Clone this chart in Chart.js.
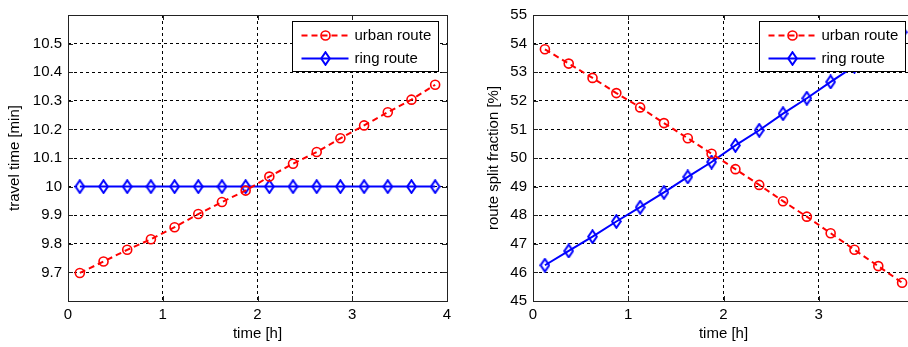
<!DOCTYPE html>
<html>
<head>
<meta charset="utf-8">
<script src="https://cdn.jsdelivr.net/npm/chart.js@4.4.1/dist/chart.umd.min.js"></script>
<style>
    html, body { margin: 0; padding: 0; background: #fff; overflow: hidden; width: 908px; height: 347px; }
    #travelChart { position: absolute; left: 0; top: 0; }
    #splitChart { position: absolute; left: 460px; top: 0; }
</style>
</head>
<body>
<canvas id="travelChart" width="460" height="347"></canvas>
<canvas id="splitChart" width="470" height="347"></canvas>
<script>
// time samples [h]
const times = [0.125, 0.375, 0.625, 0.875, 1.125, 1.375, 1.625, 1.875, 2.125, 2.375, 2.625, 2.875, 3.125, 3.375, 3.625, 3.875];

// travel time [min]
const urbanTravel = [9.698, 9.738, 9.779, 9.816, 9.858, 9.904, 9.946, 9.986, 10.035, 10.080, 10.121, 10.169, 10.214, 10.260, 10.304, 10.356];
const ringTravel = [10, 10, 10, 10, 10, 10, 10, 10, 10, 10, 10, 10, 10, 10, 10, 10];

// route split fraction [%]
const urbanSplit = [53.80, 53.30, 52.80, 52.27, 51.77, 51.22, 50.69, 50.15, 49.61, 49.06, 48.49, 47.95, 47.37, 46.79, 46.22, 45.64];
const ringSplit = [46.25, 46.75, 47.25, 47.78, 48.28, 48.80, 49.34, 49.86, 50.44, 50.97, 51.55, 52.09, 52.66, 53.21, 53.80, 54.40];

const xTicks = [0, 1, 2, 3, 4];
const travelTicks = [9.7, 9.8, 9.9, 10, 10.1, 10.2, 10.3, 10.4, 10.5];
const splitTicks = [45, 46, 47, 48, 49, 50, 51, 52, 53, 54, 55];

const seriesNames = ["urban route", "ring route"];
const FONT = "'Liberation Sans', Arial, Helvetica, sans-serif";

// tall open diamond like the MATLAB 'd' marker
function diamondMarker(color) {
    const c = document.createElement("canvas");
    c.width = 11;
    c.height = 15;
    const g = c.getContext("2d");
    g.strokeStyle = color;
    g.lineWidth = 2;
    g.beginPath();
    g.moveTo(5.5, 1.2);
    g.lineTo(9.8, 7.5);
    g.lineTo(5.5, 13.8);
    g.lineTo(1.2, 7.5);
    g.closePath();
    g.stroke();
    return c;
}
const diamond = diamondMarker("#0000ff");

function toPoints(values) {
    return values.map((v, i) => ({ x: times[i], y: v }));
}

// axes box, inward ticks and legend drawn on top
const matlabAxes = {
    id: "matlabAxes",
    afterDraw(chart) {
        const { ctx, chartArea: a, scales } = chart;
        ctx.save();
        ctx.strokeStyle = "#222";
        ctx.lineWidth = 1;
        ctx.setLineDash([]);
        ctx.beginPath();
        scales.x.ticks.forEach(t => {
            const px = Math.round(scales.x.getPixelForValue(t.value)) + 0.5;
            ctx.moveTo(px, a.bottom); ctx.lineTo(px, a.bottom - 5);
            ctx.moveTo(px, a.top); ctx.lineTo(px, a.top + 5);
        });
        scales.y.ticks.forEach(t => {
            const py = Math.round(scales.y.getPixelForValue(t.value)) + 0.5;
            ctx.moveTo(a.left, py); ctx.lineTo(a.left + 5, py);
            ctx.moveTo(a.right, py); ctx.lineTo(a.right - 5, py);
        });
        ctx.stroke();
        ctx.strokeRect(Math.round(a.left) + 0.5, Math.round(a.top) + 0.5, Math.round(a.right - a.left), Math.round(a.bottom - a.top));

        // legend
        const w = 146, h = 50;
        const bx = Math.round(a.right) - 9 - w + 0.5;
        const by = Math.round(a.top) + 6 + 0.5;
        ctx.fillStyle = "#fff";
        ctx.fillRect(bx, by, w, h);
        ctx.strokeStyle = "#000";
        ctx.strokeRect(bx, by, w, h);

        chart.data.datasets.forEach((ds, i) => {
            const y = by + 14 + i * 23;
            ctx.strokeStyle = ds.borderColor;
            ctx.lineWidth = ds.borderWidth;
            ctx.setLineDash(ds.borderDash || []);
            ctx.beginPath();
            ctx.moveTo(bx + 9, y);
            ctx.lineTo(bx + 56, y);
            ctx.stroke();
            ctx.setLineDash([]);
            const mx = bx + 33;
            if (ds.pointStyle === "circle") {
                ctx.lineWidth = ds.pointBorderWidth;
                ctx.beginPath();
                ctx.arc(mx, y, ds.pointRadius, 0, Math.PI * 2);
                ctx.stroke();
            } else {
                ctx.drawImage(ds.pointStyle, mx - ds.pointStyle.width / 2, y - ds.pointStyle.height / 2);
            }
            ctx.fillStyle = "#000";
            ctx.font = "15px " + FONT;
            ctx.textBaseline = "middle";
            ctx.textAlign = "left";
            ctx.fillText(ds.label, bx + 62, y);
        });
        ctx.restore();
    }
};

function makeChart(canvasId, urban, ring, yMin, yMax, yTicks, yTitle, yWidth, rightPad, yTitlePad) {
    const ctx = document.getElementById(canvasId).getContext("2d");
    return new Chart(ctx, {
        type: "line",
        data: {
            datasets: [{
                label: seriesNames[0],
                data: toPoints(urban),
                borderColor: "#ff0000",
                borderWidth: 2,
                borderDash: [6, 4],
                pointStyle: "circle",
                pointRadius: 4.5,
                pointBorderWidth: 1.6,
                pointBorderColor: "#ff0000",
                pointBackgroundColor: "rgba(0,0,0,0)",
                tension: 0
            }, {
                label: seriesNames[1],
                data: toPoints(ring),
                borderColor: "#0000ff",
                borderWidth: 2,
                pointStyle: diamond,
                pointRadius: 6,
                tension: 0
            }]
        },
        options: {
            responsive: false,
            animation: false,
            devicePixelRatio: 1,
            events: [],
            layout: { padding: { top: 13, right: rightPad, left: 0, bottom: 0 } },
            plugins: { legend: { display: false }, tooltip: { enabled: false } },
            scales: {
                x: {
                    type: "linear",
                    min: 0,
                    max: 4,
                    afterBuildTicks: scale => { scale.ticks = xTicks.map(v => ({ value: v })); },
                    afterFit: scale => { scale.height = 46; },
                    grid: { color: "#000", lineWidth: 1, drawTicks: false },
                    border: { display: false, dash: [3, 3] },
                    ticks: { color: "#000", padding: 5, maxRotation: 0, font: { family: FONT, size: 15 } },
                    title: { display: true, text: "time [h]", color: "#000", padding: { top: 0, bottom: 4 }, font: { family: FONT, size: 15 } }
                },
                y: {
                    type: "linear",
                    min: yMin,
                    max: yMax,
                    afterBuildTicks: scale => { scale.ticks = yTicks.map(v => ({ value: v })); },
                    afterFit: scale => { scale.width = yWidth; },
                    grid: { color: "#000", lineWidth: 1, drawTicks: false },
                    border: { display: false, dash: [3, 3] },
                    ticks: {
                        color: "#000",
                        padding: 6,
                        font: { family: FONT, size: 15 },
                        callback: v => String(Number(v.toFixed(1)))
                    },
                    title: { display: true, text: yTitle, color: "#000", padding: { top: yTitlePad, bottom: 0 }, font: { family: FONT, size: 15 } }
                }
            }
        },
        plugins: [matlabAxes]
    });
}

document.addEventListener("DOMContentLoaded", () => {
    makeChart("travelChart", urbanTravel, ringTravel, 9.6, 10.6, travelTicks, "travel time [min]", 68, 13, 6);
    makeChart("splitChart", urbanSplit, ringSplit, 45, 55, splitTicks, "route split fraction [%]", 73, 16, 25);
});
</script>
</body>
</html>
